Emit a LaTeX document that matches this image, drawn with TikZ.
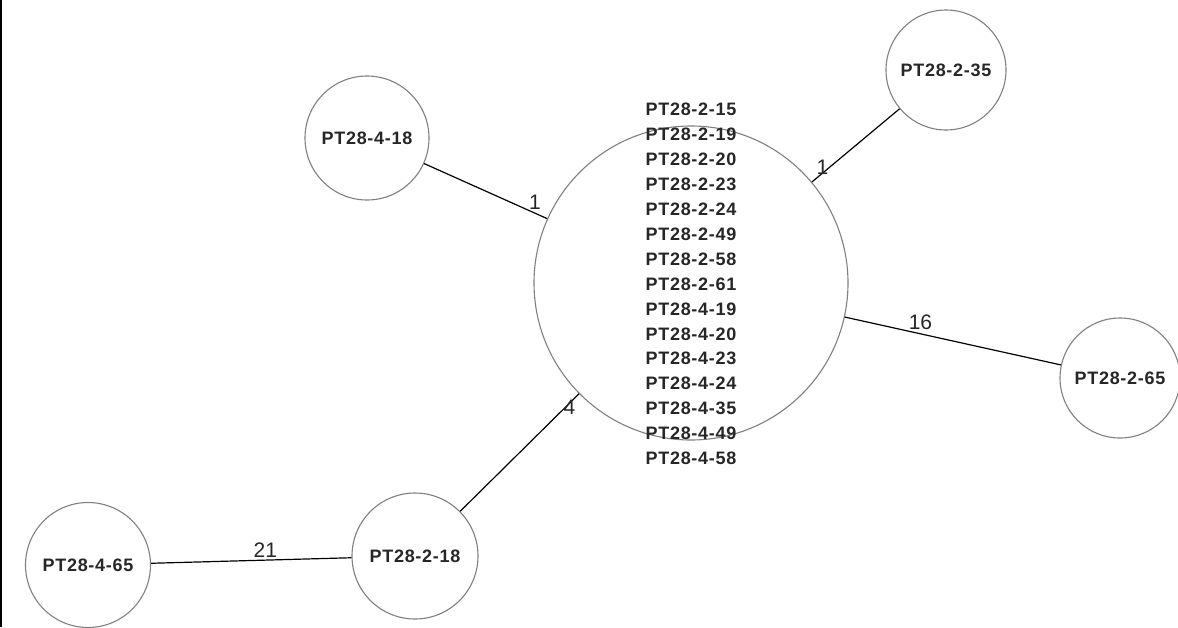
\documentclass[tikz,border=0pt]{standalone}
\usepackage{fontspec}
\setmainfont{Liberation Sans}
\newfontfamily\nodefont[LetterSpace=4]{Liberation Sans}
\begin{document}
\begin{tikzpicture}[x=1pt,y=-1pt,
  vert/.style={circle,draw=black!50,line width=1.1pt,inner sep=0pt,
    font=\nodefont\bfseries\fontsize{18}{25}\selectfont,text=black!85},
  link/.style={draw=black,line width=1.2pt},
  wt/.style={font=\fontsize{21}{24}\selectfont,text=black!85,inner sep=1pt}]
\useasboundingbox (0,0) rectangle (1178,627);
\fill[white] (0,0) rectangle (1178,627);
\draw[line width=2pt] (1,0) -- (1,627);
\node[vert,minimum size=314pt] (c) at (691,283) {};
\node[font=\nodefont\bfseries\fontsize{18}{24.9}\selectfont,text=black!85,align=center,inner sep=0pt] (ct) at (691,284)
 {PT28-2-15\\PT28-2-19\\PT28-2-20\\PT28-2-23\\PT28-2-24\\PT28-2-49\\PT28-2-58\\PT28-2-61\\PT28-4-19\\PT28-4-20\\PT28-4-23\\PT28-4-24\\PT28-4-35\\PT28-4-49\\PT28-4-58};
\node[vert,minimum size=124pt] (a) at (367,138) {PT28-4-18};
\node[vert,minimum size=120pt] (b) at (946,70) {PT28-2-35};
\node[vert,minimum size=120pt] (d) at (1120,378) {PT28-2-65};
\node[vert,minimum size=126pt] (e) at (415,556) {PT28-2-18};
\node[vert,minimum size=125pt] (f) at (88,565) {PT28-4-65};
\draw[link] (a) -- node[wt,pos=0.9,above=2pt] {1} (c);
\draw[link] (c) -- node[wt,pos=0.12,above=-3pt] {1} (b);
\draw[link] (c) -- node[wt,pos=0.35,above=3pt] {16} (d);
\draw[link] (c) -- node[wt,pos=0.1,right=-5pt,yshift=-2pt] {4} (e);
\draw[link] (e) -- node[wt,pos=0.43,above=1pt] {21} (f);
\end{tikzpicture}
\end{document}
